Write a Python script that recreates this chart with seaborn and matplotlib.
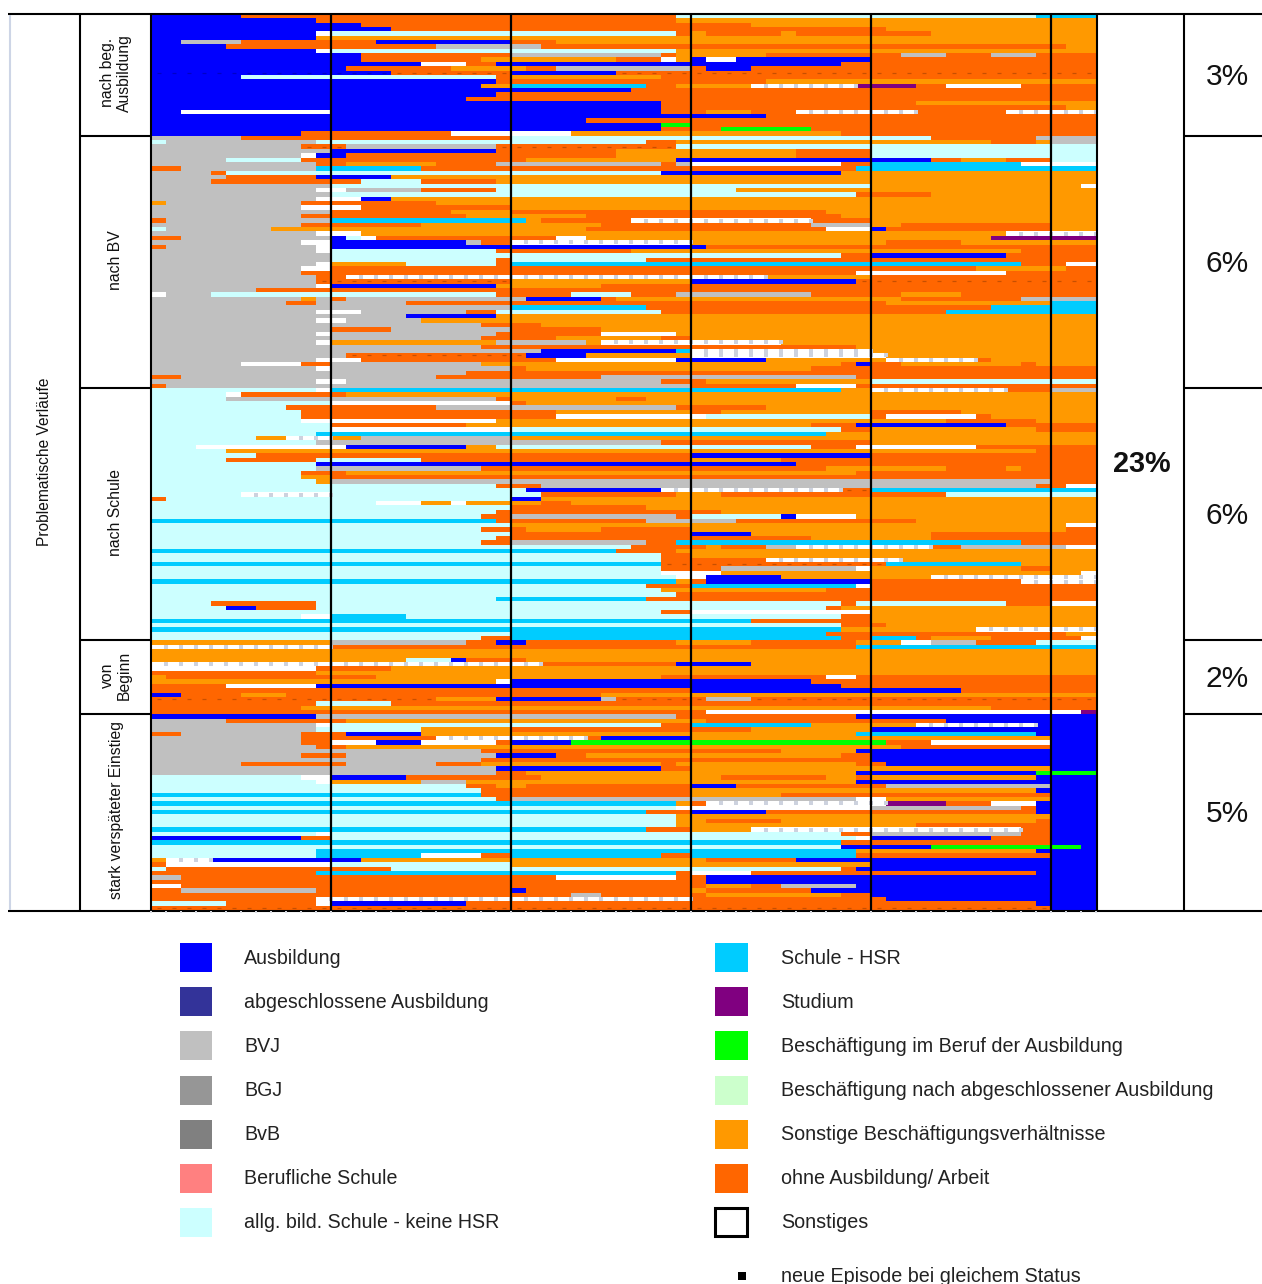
import re
import numpy as np
import pandas as pd
import matplotlib
matplotlib.use("Agg")
import matplotlib.pyplot as plt
from matplotlib.colors import ListedColormap
from matplotlib.lines import Line2D
from matplotlib.patches import Rectangle
import seaborn as sns

# B Ausbildung, G BVJ, C allg. Schule, S Schule-HSR, P Studium, L Besch. im Beruf,
# O sonstige Besch., R ohne Ausbildung, W Sonstiges. Lower case = new-episode marks.
NACH_BEG = """B6 R29 C24 S4
B11 R24 O28
B14 R26 O23
B16 R33 O14
B11 W1 C23 R1 O1 R5 O1 R9 O11
B11 O52
B2 G4 R9 B9 R3 O36
B5 R14 G7 R35 O2
B11 W1 C23 O28
B14 R10 G10 R1 O6 R9 G3 R3 G3 R4
B14 R8 O9 R3 W1 O1 B1 W2 B9 R15
B18 W3 R2 B23 R17
B13 R7 O5 R2 G9 R1 B3 R23
b16 r8 B7 r32
B6 C17 R1 O10 R29
B23 R18 O22
B22 O2 S9 R2 O5 w7 P4 R2 W5 R5
B32 R31
B23 R40
B21 R42
B34 R17 O12
B34 R27 O2
B2 W10 B22 R3 O3 R3 w8 R6 w6
B41 R22
B29 R34
B34 L2 R27
B34 R4 L6 R19
B10 R10 W8 O18 R17""".split("\n")

NACH_BV = """G6 R18 C28 R7 G4
C1 G10 C22 R2 O21 R3 O1 G3
G10 r3 G10 r12 C28
G12 B11 R8 O12 R5 C15
G10 W1 B2 R18 O12 R5 C15
G5 C5 R15 O10 B17 R2 O3 R3 C3
G11 R2 O6 R4 G11 R1 G1 W10 R2 S10 W5
R2 G9 S7 R29 S16
G4 R1 C29 B12 O17
G5 R6 B5 O47
G4 R10 C4 R5 O40
G12 C36 O14 W1
G11 W2 G5 R5 C16 O24
G12 C35 R5 O11
G11 W3 B2 O47
O1 G9 R9 O44
G10 W4 R10 O39
G12 R8 O4 R21 O18
G10 R11 O8 R17 O17
R1 G11 S13 O1 R6 w12 R4 O15
G10 R8 O12 R14 G4 O2 R10 O3
C1 G7 O21 R16 W3 B1 R11 O3
G11 W3 O43 w6
R2 G10 B1 C1 W1 R12 W2 O27 P7
G10 W2 B9 G1 R2 w12 O13 R5 O9
R1 G10 W1 B25 R26
G11 W1 C11 R9 O26 R5
G12 C34 R2 B9 R6
G12 C11 R1 C9 R30
G11 W1 O5 C6 R1 S34 R3 W2
G10 W2 R43 O6 R2
G10 R37 W10 R6
G11 R2 w28 O7 R15
G11 r13 O12 B11 r16
G11 W1 B11 O7 R33
G7 R56
W1 G3 C19 R5 C4 R3 G9 R6 O4 R9
G10 O1 G1 R1 G12 B5 R1 O19 R8 G5
G9 R2 G6 R32 O11 S3
G24 S9 R23 S7
G11 W3 G7 R2 C11 R19 S10
G17 B6 O40
G11 W2 G5 O45
G22 R4 O37
G12 R4 G8 R6 O33
G11 W1 G11 R7 W5 O28
G22 R5 O7 R2 O27
G11 W1 O11 G6 O1 w12 O21
G22 R25 O16
G26 B9 S1 w12 O15
G13 r12 B4 O7 w13 O14
G11 W3 R13 W8 B6 O8 w6 R1 O7
G6 W4 R2 G10 O24 R1 B1 R2 O8 R1 O4
G11 W1 G12 R1 O19 R19
G21 R42
R2 G17 R11 G17 R16
G11 W2 G21 R3 O11 C15
R1 G35 R7 W4 R16""".split("\n")

NACH_SCHULE = """C11 W1 S34 O2 w9 R3 G3
C5 W1 R7 O50
C5 G18 R1 O7 R2 O30
C12 W12 R1 O38
C9 R10 G16 R6 O22
C10 R17 O9 R2 O10 R6 O9
C10 R17 W10 C11 R1 W6 R1 O7
C10 W13 O30 R6 O4
C12 R9 O23 R3 B10 R6
C12 W12 C22 R2 O11 R4
C11 S34 O18
C7 O2 w3 O2 G10 O39
C11 G23 R14 O15
C3 W10 B8 O2 C21 R3 W8 R8
C5 O54 R4
C7 R29 B12 R15
C5 R6 C7 R18 O6 R21
C11 B32 R20
C11 G11 R23 O8 R4 O1 R5
C10 R3 O34 R16
C10 O2 R51
C11 O1 G48 R3
C23 R3 G33 R2 W2
C25 B9 w12 r2 S15
C6 w6 C14 R9 O3 R15 C10
R1 C23 B2 O37
C15 W3 O2 W1 O5 R2 O35
C24 R9 O30
C23 R15 O25
C22 R2 G11 R1 C6 B1 W4 O16
S23 R10 G6 R12 O12
C24 O37 W2
C22 R3 O5 R6 O25 R2
C24 R12 B4 O12 R11
C23 R21 O8 R11
C22 R2 G9 R2 S23 R5
C32 R5 O1 R3 G2 w9 R2 G7 W2
S31 R4 O28
C34 R2 O27
C34 R7 w9 O13
S34 r15 S9 O5
C34 R4 G9 W1 O10 R2 O3
C34 W4 O24 W1
C35 W2 B5 O10 w11
S35 O1 R1 B11 R10 w5
C33 R3 S11 W1 R15
C34 O11 R18
C35 R28
C23 S10 R30
C4 R7 C35 R1 C10 R3 W3
C5 B2 R4 C34 R1 O17
C34 R2 W12 O15
C10 W2 S5 C29 R2 O15
S40 R8 O15
C46 R3 O14
S46 O9 w8
C24 S21 R16 O2
C22 R2 S22 R2 S3 R1 O4 R6 W1""".split("\n")

VON_BEGINN = """O12 G9 R2 B2 R10 O5 R7 O3 W2 G3 R4 C4
w12 R35 S16
O63
O63
O17 C3 B1 R4 O38
w26 R9 B5 O23
W11 R5 O47
R11 O52
O1 R14 O19 R11 W2 R16
O23 W1 B20 R19
R5 W6 B35 R17
R36 B18 R9
B2 R4 O3 R21 O33
r19 O4 B7 G1 r6 G3 r23
R11 C5 R47
R10 O46 R7
R37 W25 P1""".split("\n")

STARK = """B11 G24 R12 B16
G5 R8 O24 R16 B10
G11 W1 C22 R2 S8 O7 w8 B4
G11 C7 O6 R16 O8 B15
R2 G8 R3 B5 O29 S12 B4
G10 R9 w10 R1 B6 O24 B3
G10 R2 W3 B3 W5 R1 B4 L21 R3 W8 B3
G11 R2 O37 R10 B3
G22 R20 O5 B16
G10 R3 G10 B4 R2 O17 R2 B15
G22 R26 B15
G6 R7 G6 R3 O12 R1 O12 R2 B14
G23 B11 R2 O24 B3
G23 R2 O22 B12 L4
C10 W2 B5 R9 O12 R7 O2 R1 O11 B4
C11 W1 O6 G3 O26 B16
C21 R2 O2 R11 B3 R10 G11 B3
C22 R14 O23 B4
S22 R14 O6 R18 B3
C23 R1 G23 W2 O11 B3
S35 O1 R1 w12 P4 R3 W3 B4
C35 W13 G10 R1 B4
S33 R3 B5 R18 B4
C35 O25 B3
C35 O2 R5 O17 R1 B3
C35 O16 R9 B3
S33 R3 O4 w18 R2 B3
C11 W1 C34 R2 G10 R2 B3
B10 R2 C35 W1 B8 R4 B3
S46 R14 B3
C46 B6 L10 B1
C11 S36 O12 B4
C11 S7 W4 R2 S10 R2 S11 R13 B3
O1 w3 B10 O23 R6 B20
R1 W11 C12 O24 B15
C1 R15 C30 R1 B16
R11 S24 R1 W4 R19 B4
G2 R25 W8 R2 B26
R37 B26
W2 R35 O3 R2 G5 B16
R2 G9 R13 B1 R11 O1 R7 B19
R28 G2 R7 O9 R2 B15
R11 w25 R13 B14
C5 R6 W1 B9 R38 B4
r60 B3""".split("\n")

GROUP_LABELS = ["nach beg.\nAusbildung", "nach BV", "nach Schule", "von\nBeginn", "stark verspäteter Einstieg"]
GROUP_SHARES = ["3%", "6%", "6%", "2%", "5%"]
TOTAL_SHARE = "23%"
SIDE_LABEL = "Problematische Verläufe"
STATES = list("BGCSPLORW")
STATE_COLORS = ["#0000FF", "#C0C0C0", "#CCFFFF", "#00CCFF", "#800080", "#00FF00", "#FF9900", "#FF6600", "#FFFFFF"]
LEGEND_LEFT = [("Ausbildung", "#0000FF"), ("abgeschlossene Ausbildung", "#333399"), ("BVJ", "#C0C0C0"),
               ("BGJ", "#969696"), ("BvB", "#808080"), ("Berufliche Schule", "#FF8080"),
               ("allg. bild. Schule - keine HSR", "#CCFFFF")]
LEGEND_RIGHT = [("Schule - HSR", "#00CCFF"), ("Studium", "#800080"), ("Beschäftigung im Beruf der Ausbildung", "#00FF00"),
                ("Beschäftigung nach abgeschlossener Ausbildung", "#CCFFCC"),
                ("Sonstige Beschäftigungsverhältnisse", "#FF9900"), ("ohne Ausbildung/ Arbeit", "#FF6600"),
                ("Sonstiges", "#FFFFFF")]
MONTHS = 63

groups = [NACH_BEG, NACH_BV, NACH_SCHULE, VON_BEGINN, STARK]
all_rows = [r for g in groups for r in g]
matrix = np.zeros((len(all_rows), MONTHS), dtype=int)
marks = []
for i, row in enumerate(all_rows):
    col = 0
    for code, n in re.findall(r"([A-Za-z])(\d+)", row):
        n = int(n)
        matrix[i, col:col + n] = STATES.index(code.upper())
        if code.islower():
            for c in range(col, col + n):
                marks.append((c + 1.0 if code == "w" else c + 0.5, i + 0.5, code))
        col += n
    assert col == MONTHS, (i, row, col)
df = pd.DataFrame(matrix)
marks = pd.DataFrame(marks, columns=["x", "y", "code"])

W, H = 1262, 1284
sns.set_theme(style="white")
plt.rcParams["font.family"] = ["Liberation Sans", "DejaVu Sans"]
fig = plt.figure(figsize=(W / 100, H / 100), dpi=100)
X0, X1, Y0, Y1 = 151, 1096, 14, 910
ax = fig.add_axes([X0 / W, 1 - Y1 / H, (X1 - X0) / W, (Y1 - Y0) / H])
sns.heatmap(df, ax=ax, cmap=ListedColormap(STATE_COLORS), vmin=-0.5, vmax=len(STATES) - 0.5,
            cbar=False, xticklabels=False, yticklabels=False, linewidths=0, rasterized=True)
ax.set_xlabel(""); ax.set_ylabel("")
sns.scatterplot(data=marks[marks.code == "w"], x="x", y="y", ax=ax, marker="s", s=6, color="#CDD2DE",
                linewidth=0, legend=False, clip_on=True)
sns.scatterplot(data=marks[marks.code != "w"], x="x", y="y", ax=ax, marker="_", s=6, color="#000000", alpha=0.22,
                linewidth=0.9, legend=False, clip_on=True)
ax.set_xlim(0, MONTHS)
ax.set_ylim(len(all_rows), 0)
for s in ax.spines.values():
    s.set_visible(False)

def px(x, y):
    return x / W, 1 - y / H

def line(x0, y0, x1, y1, color="black", lw=1.0, z=5):
    a, b = px(x0, y0); c, d = px(x1, y1)
    fig.add_artist(Line2D([a, c], [b, d], color=color, lw=lw, zorder=z, solid_capstyle="butt"))

# frame
line(8, 14, 1262, 14, lw=1.5)
line(8, 911, 1262, 911, lw=1.5)
line(9.5, 15, 9.5, 910, color="#CDD5E6", lw=1.5)
for x in (80, 151, 1097, 1184):
    line(x, 14, x, 911, lw=1.5)
for c in range(12, MONTHS, 12):
    x = X0 + c * (X1 - X0) / MONTHS
    line(x, 14, x, 910, lw=1.6, z=6)
for c in range(0, MONTHS + 1):
    x = X0 + c * (X1 - X0) / MONTHS
    fig.add_artist(Rectangle(px(x - 1, 913), 2 / W, 2.5 / H, transform=fig.transFigure, fc="#D5D8E0", ec="none", zorder=7))
rowh = (Y1 - Y0) / len(all_rows)
pos = 0
for g, lab, share in zip(groups, GROUP_LABELS, GROUP_SHARES):
    top = Y0 + pos * rowh
    bot = top + len(g) * rowh
    pos += len(g)
    if pos < len(all_rows):
        line(80, bot, 151, bot, lw=1.5)
        line(1184, bot, 1262, bot, lw=1.5)
    fig.text(*px(116, (top + bot) / 2 - 2), lab, rotation=90, ha="center", va="center", fontsize=11.3,
             color="#111111", linespacing=1.15, multialignment="center")
    fig.text(*px(1227, (top + bot) / 2 + 2), share, ha="center", va="center", fontsize=21.5, color="#111111")
fig.text(*px(44.5, 462), SIDE_LABEL, rotation=90, ha="center", va="center", fontsize=11.2, color="#111111")
fig.text(*px(1141.5, 464), TOTAL_SHARE, ha="center", va="center", fontsize=20.8, fontweight="bold", color="#111111")

# legend
LEG_Y = [957, 1001, 1045, 1090, 1134, 1178, 1222]
for (lab, col), yy in zip(LEGEND_LEFT, LEG_Y):
    fig.add_artist(Rectangle(px(180, yy + 14.5), 32 / W, 29 / H, transform=fig.transFigure, fc=col, ec="none"))
    fig.text(*px(244, yy + 1), lab, ha="left", va="center", fontsize=14.1, color="#222222")
for (lab, col), yy in zip(LEGEND_RIGHT, LEG_Y):
    if lab == "Sonstiges":
        fig.add_artist(Rectangle(px(715, yy + 14), 32 / W, 28 / H, transform=fig.transFigure, fc="white", ec="black", lw=2.2))
    else:
        fig.add_artist(Rectangle(px(715, yy + 14.5), 33 / W, 29 / H, transform=fig.transFigure, fc=col, ec="none"))
    fig.text(*px(781, yy + 1), lab, ha="left", va="center", fontsize=14.2, color="#222222")
fig.add_artist(Rectangle(px(738, 1280), 8 / W, 8 / H, transform=fig.transFigure, fc="black", ec="none"))
fig.text(*px(781, 1276), "neue Episode bei gleichem Status", ha="left", va="center", fontsize=14.2, color="#222222")

fig.savefig("out.png", dpi=100)
